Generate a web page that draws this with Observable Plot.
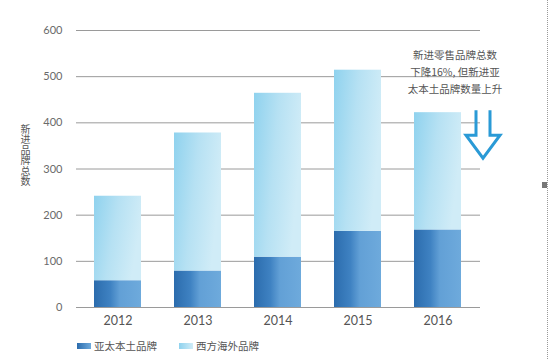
<!DOCTYPE html>
<html>
<head>
<meta charset="utf-8">
<script src="https://cdn.jsdelivr.net/npm/d3@7"></script>
<script src="https://cdn.jsdelivr.net/npm/@observablehq/plot@0.6"></script>
<style>
  html, body { margin: 0; padding: 0; background: #fff; }
  #wrap { position: relative; width: 550px; height: 359px; overflow: hidden; font-family: "Noto Sans CJK SC", "Lato", sans-serif; }
  #legend { position: absolute; left: 77px; top: 338px; display: flex; align-items: center; font-size: 10.5px; color: #555; }
  .sw { display: inline-block; width: 14px; height: 6px; margin-right: 3px; }
  .item { display: flex; align-items: center; margin-right: 22px; }
  #ytitle { position: absolute; left: 19px; top: 124px; writing-mode: vertical-rl; text-orientation: upright; font-size: 10px; line-height: 12px; letter-spacing: 0.5px; color: #555; }
  #dots { position: absolute; left: 547px; top: 0; height: 359px; border-left: 1px dotted #999; }
  #handle { position: absolute; left: 542px; top: 182px; width: 5px; height: 6px; background: #777; }
</style>
</head>
<body>
<div id="wrap">
  <div id="chart"></div>
  <div id="ytitle"></div>
  <div id="legend"></div>
  <div id="dots"></div>
  <div id="handle"></div>
</div>
<script>
const years = ["2012", "2013", "2014", "2015", "2016"];
const asiaPacific = [58, 79, 109, 165, 168];
const western = [183, 299, 355, 349, 254];
const yTicks = [0, 100, 200, 300, 400, 500, 600];
const seriesNames = ["亚太本土品牌", "西方海外品牌"];
const yTitle = "新进品牌总数";
const note = "新进零售品牌总数\n下降16%, 但新进亚\n太本土品牌数量上升";

const rows = [];
years.forEach((yr, i) => {
  rows.push({year: yr, series: seriesNames[0], value: asiaPacific[i]});
  rows.push({year: yr, series: seriesNames[1], value: western[i]});
});
const totals = years.map((yr, i) => ({year: yr, total: asiaPacific[i] + western[i]}));

const plot = Plot.plot({
  width: 550,
  height: 330,
  marginTop: 30,
  marginBottom: 23,
  marginLeft: 76,
  marginRight: 70,
  style: {fontFamily: "Lato, 'Noto Sans CJK SC', sans-serif", background: "#fff"},
  x: {domain: years, paddingInner: 0.41, paddingOuter: 0.205, label: null},
  y: {domain: [0, 600], label: null},
  color: {domain: seriesNames, range: ["url(#gDark)", "url(#gLight)"]},
  marks: [
    Plot.ruleY(yTicks, {stroke: "#9a9a9a", strokeWidth: 1}),
    Plot.barY(rows, {x: "year", y: "value", fill: "series", order: seriesNames}),
    Plot.axisY(yTicks, {tickSize: 0, tickPadding: 14, fontSize: 11, fill: "#6a6a6a", label: null}),
    Plot.axisX({tickSize: 0, tickPadding: 9, fontSize: 12.5, fill: "#555", label: null}),
    Plot.text([note], {x: [years[4]], frameAnchor: "top", dx: 17, dy: 16, lineAnchor: "top", lineHeight: 1.65, fontSize: 10.5, fill: "#555", fontFamily: "Noto Sans CJK SC"})
  ]
});

const svg = d3.select(plot);
const defs = svg.insert("defs", ":first-child");
const gd = defs.append("linearGradient").attr("id", "gDark").attr("x1", "0").attr("x2", "1").attr("y1", "0").attr("y2", "0");
gd.append("stop").attr("offset", "0").attr("stop-color", "#2b6cad");
gd.append("stop").attr("offset", "0.35").attr("stop-color", "#3f82c2");
gd.append("stop").attr("offset", "0.55").attr("stop-color", "#62a0d6");
gd.append("stop").attr("offset", "1").attr("stop-color", "#6eaadc");
const gl = defs.append("linearGradient").attr("id", "gLight").attr("x1", "0").attr("x2", "1").attr("y1", "0").attr("y2", "0.3");
gl.append("stop").attr("offset", "0").attr("stop-color", "#8fd2ee");
gl.append("stop").attr("offset", "0.5").attr("stop-color", "#b6e1f3");
gl.append("stop").attr("offset", "1").attr("stop-color", "#d0ecf7");

// hollow down arrow beside the 2016 bar
const xs = plot.scale("x"), ys = plot.scale("y");
const bw = xs.bandwidth;
const ax = xs.apply(years[4]) + bw + 22;
const ay = ys.apply(totals[4].total) - 2;
const p = d3.path();
p.moveTo(ax - 7, ay); p.lineTo(ax - 7, ay + 25); p.lineTo(ax - 17, ay + 25);
p.lineTo(ax, ay + 48); p.lineTo(ax + 17, ay + 25); p.lineTo(ax + 7, ay + 25); p.lineTo(ax + 7, ay);
svg.append("path").attr("d", p.toString()).attr("fill", "none").attr("stroke", "#2a9ad6").attr("stroke-width", 3).attr("stroke-linejoin", "miter");

document.getElementById("chart").appendChild(plot);
document.getElementById("ytitle").textContent = yTitle;

const lg = document.getElementById("legend");
[["linear-gradient(90deg,#2b6cad,#6eaadc)", seriesNames[0]], ["linear-gradient(90deg,#8fd2ee,#d0ecf7)", seriesNames[1]]].forEach(([bg, name]) => {
  const it = document.createElement("div"); it.className = "item";
  const sw = document.createElement("span"); sw.className = "sw"; sw.style.background = bg;
  const t = document.createElement("span"); t.textContent = name;
  it.appendChild(sw); it.appendChild(t); lg.appendChild(it);
});
</script>
</body>
</html>
